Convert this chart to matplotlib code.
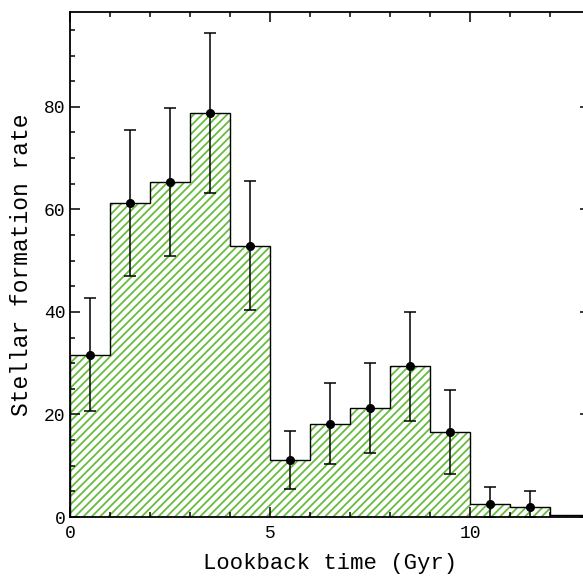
import matplotlib
matplotlib.use("Agg")
import matplotlib.pyplot as plt
import numpy as np
from matplotlib.ticker import MultipleLocator

plt.rcParams['font.family'] = ['Liberation Mono', 'DejaVu Sans Mono']
plt.rcParams['hatch.linewidth'] = 1.3

# Data
bin_left = [0, 1, 2, 3, 4, 5, 6, 7, 8, 9, 10, 11, 12]
sfr = [31.6, 61.3, 65.4, 78.8, 52.9, 11.1, 18.2, 21.3, 29.5, 16.6, 2.6, 2.0, 0.3]
err_low = [20.7, 47.0, 51.0, 63.2, 40.4, 5.5, 10.3, 12.5, 18.7, 8.4, 0.0, 0.0]
err_high = [42.7, 75.5, 79.8, 94.4, 65.6, 16.8, 26.1, 30.0, 40.0, 24.8, 5.9, 5.1]
x_label = "Lookback time (Gyr)"
y_label = "Stellar formation rate"

W, H = 583, 579
fig = plt.figure(figsize=(W / 100, H / 100), dpi=100)
ax = fig.add_axes([70 / W, (H - 517) / H, 520 / W, 505 / H])

green = (0.40, 0.74, 0.24)
edges = np.array(bin_left + [bin_left[-1] + 1], dtype=float)
vals = np.array(sfr)
ax.bar(edges[:-1], vals, width=1.0, align='edge', color='white',
       edgecolor=green, hatch='////', linewidth=0, zorder=1)
ax.stairs(vals, edges, color='black', linewidth=1.0, zorder=2)

n = len(err_low)
xc = np.array(bin_left[:n]) + 0.5
yc = vals[:n]
lo = yc - np.array(err_low)
hi = np.array(err_high) - yc
ax.errorbar(xc, yc, yerr=[lo, hi], fmt='o', color='black', ms=5.5,
            elinewidth=1.1, capsize=4, capthick=1.1, zorder=3)

ax.set_xlim(0, 13)
ax.set_ylim(0, 98.5)
ax.xaxis.set_major_locator(MultipleLocator(5))
ax.xaxis.set_minor_locator(MultipleLocator(1))
ax.yaxis.set_major_locator(MultipleLocator(20))
ax.yaxis.set_minor_locator(MultipleLocator(5))
ax.tick_params(which='both', direction='in', top=True, right=True,
               labelsize=13, width=1.1)
ax.tick_params(which='major', length=7)
ax.tick_params(which='minor', length=3.5)
ax.tick_params(axis='x', pad=6)
for s in ax.spines.values():
    s.set_linewidth(1.3)

ax.set_xlabel(x_label, fontsize=16, labelpad=8)
ax.set_ylabel(y_label, fontsize=16.5, labelpad=8)

fig.savefig("out.png", dpi=100)
